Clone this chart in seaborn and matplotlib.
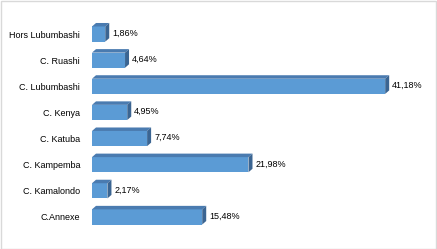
import matplotlib
matplotlib.use("Agg")
import matplotlib.pyplot as plt
import seaborn as sns
import pandas as pd
from matplotlib.patches import Polygon, Rectangle

categories = ["Hors Lubumbashi", "C. Ruashi", "C. Lubumbashi", "C. Kenya",
              "C. Katuba", "C. Kampemba", "C. Kamalondo", "C.Annexe"]
values = [1.86, 4.64, 41.18, 4.95, 7.74, 21.98, 2.17, 15.48]
value_labels = ["1,86%", "4,64%", "41,18%", "4,95%", "7,74%", "21,98%", "2,17%", "15,48%"]

df = pd.DataFrame({"cat": categories, "val": values})

sns.set_style("white")
plt.rcParams['font.family'] = ['Liberation Sans', 'DejaVu Sans']

W, H = 437, 249
fig = plt.figure(figsize=(W / 100, H / 100), dpi=100)
fig.patch.set_facecolor("white")
fig.patches.append(Rectangle((0.5 / W, 0.5 / H), (W - 1.5) / W, (H - 2) / H,
                             transform=fig.transFigure, fill=False,
                             edgecolor="#d9d9d9", linewidth=1.0))

ax_left, ax_right = 92, 419.5
ax_top, ax_bot = 21, 230
ax = fig.add_axes([ax_left / W, (H - ax_bot) / H, (ax_right - ax_left) / W, (ax_bot - ax_top) / H])

front = "#5b9bd5"
topc = "#4a7bb0"
sidec = "#3b6592"

sns.barplot(data=df, y="cat", x="val", orient="h", color=front, width=0.58,
            saturation=1, ax=ax, edgecolor="none")
xmax = 46
ax.set_xlim(0, xmax)
ax.set_ylim(len(categories) - 0.5, -0.5)

px_x = xmax / (ax_right - ax_left)
px_y = len(categories) / (ax_bot - ax_top)
dx = 4.0 * px_x
dy = 3.5 * px_y

for p, lab in zip(ax.patches, value_labels):
    x0 = p.get_x()
    w = p.get_width()
    y0 = p.get_y()
    h = p.get_height()
    x1 = x0 + w
    ytop = y0
    ybot = y0 + h
    top = Polygon([(x0, ytop), (x1, ytop), (x1 + dx, ytop - dy), (x0 + dx, ytop - dy)],
                  closed=True, facecolor=topc, edgecolor="none", zorder=3)
    side = Polygon([(x1, ytop), (x1 + dx, ytop - dy), (x1 + dx, ybot - dy), (x1, ybot)],
                   closed=True, facecolor=sidec, edgecolor="none", zorder=3)
    ax.add_patch(top)
    ax.add_patch(side)
    ax.text(x1 + dx + 3 * px_x, (ytop + ybot) / 2 - dy / 4, lab, va="center", ha="left",
            fontsize=6.5, color="#000000")

for s in ax.spines.values():
    s.set_visible(False)
ax.set_xlabel("")
ax.set_ylabel("")
ax.set_xticks([])
ax.tick_params(axis="y", length=0, pad=8.5, labelsize=6.5, labelcolor="#000000")
ax.set_facecolor("none")

fig.savefig("out.png", dpi=100)
